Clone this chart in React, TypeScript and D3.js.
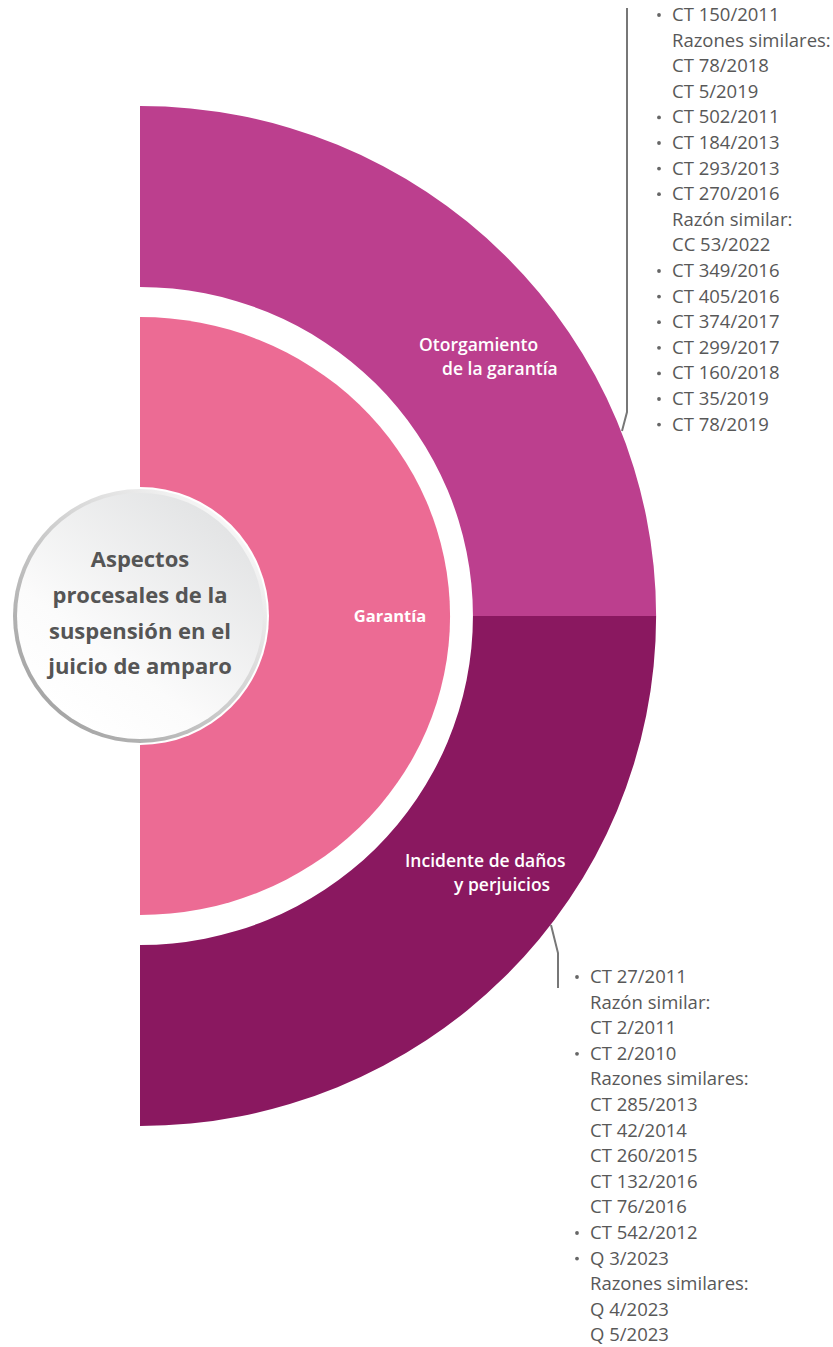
import React from "react";
import * as d3 from "d3";

const W = 833;
const H = 1347;

// Data
const centerTitle = ["Aspectos", "procesales de la", "suspensión en el", "juicio de amparo"];
const innerLabel = "Garantía";
const outerLabels = [
  ["Otorgamiento", "de la garantía"],
  ["Incidente de daños", "y perjuicios"],
];
const outerColors = ["#BC3F8E", "#8A1860"];
const innerColor = "#EC6B94";

// [text, isBullet]
const topList: [string, boolean][] = [
  ["CT 150/2011", true],
  ["Razones similares:", false],
  ["CT 78/2018", false],
  ["CT 5/2019", false],
  ["CT 502/2011", true],
  ["CT 184/2013", true],
  ["CT 293/2013", true],
  ["CT 270/2016", true],
  ["Razón similar:", false],
  ["CC 53/2022", false],
  ["CT 349/2016", true],
  ["CT 405/2016", true],
  ["CT 374/2017", true],
  ["CT 299/2017", true],
  ["CT 160/2018", true],
  ["CT 35/2019", true],
  ["CT 78/2019", true],
];
const bottomList: [string, boolean][] = [
  ["CT 27/2011", true],
  ["Razón similar:", false],
  ["CT 2/2011", false],
  ["CT 2/2010", true],
  ["Razones similares:", false],
  ["CT 285/2013", false],
  ["CT 42/2014", false],
  ["CT 260/2015", false],
  ["CT 132/2016", false],
  ["CT 76/2016", false],
  ["CT 542/2012", true],
  ["Q 3/2023", true],
  ["Razones similares:", false],
  ["Q 4/2023", false],
  ["Q 5/2023", false],
];

const FONT = "'Open Sans', 'Noto Sans', sans-serif";

export default function App() {
  const cx = 140;
  const cy = 616;

  const outerArc = d3.arc<any>().innerRadius(329).outerRadius(510);
  const innerArc = d3.arc<any>().innerRadius(0).outerRadius(299);

  const outerPie = [
    { startAngle: 0, endAngle: Math.PI / 2 },
    { startAngle: Math.PI / 2, endAngle: Math.PI },
  ];

  const listY = d3.scaleLinear().domain([0, 1]).range([0, 25.6]);

  const labelPos = [
    [
      [419, 351],
      [442, 375],
    ],
    [
      [405, 867],
      [454, 891],
    ],
  ];

  const renderList = (items: [string, boolean][], x0: number, y0: number) =>
    items.map(([t, b], i) => (
      <g key={i}>
        {b && (
          <circle cx={x0 - 13} cy={y0 + listY(i) - 6} r={1.9} fill="#666" />
        )}
        <text x={x0} y={y0 + listY(i)} fontSize={18.5} fill="#585858" fontFamily={FONT}>
          {t}
        </text>
      </g>
    ));

  return (
    <svg width={W} height={H} style={{ position: "absolute", left: 0, top: 0 }}>
      <defs>
        <linearGradient id="cfill" x1="0.8" y1="0.1" x2="0.2" y2="0.9">
          <stop offset="0" stopColor="#e3e4e5" />
          <stop offset="0.7" stopColor="#fbfbfb" />
          <stop offset="1" stopColor="#ffffff" />
        </linearGradient>
        <linearGradient id="cstroke" x1="0.85" y1="0.15" x2="0.15" y2="0.85">
          <stop offset="0" stopColor="#f6f6f6" />
          <stop offset="1" stopColor="#a6a6a6" />
        </linearGradient>
      </defs>
      <rect width={W} height={H} fill="#ffffff" />

      {/* outer ring */}
      <g transform={`translate(${cx},${cy}) scale(1.012,1)`}>
        {outerPie.map((d, i) => (
          <path key={i} d={outerArc(d) as string} fill={outerColors[i]} />
        ))}
      </g>
      {/* inner semicircle */}
      <g transform={`translate(${cx},${cy}) scale(1.037,1)`}>
        <path d={innerArc({ startAngle: 0, endAngle: Math.PI }) as string} fill={innerColor} />
      </g>

      {/* connectors */}
      <polyline
        points="627,8 627,412 622,431"
        fill="none"
        stroke="#777"
        strokeWidth={2}
      />
      <polyline
        points="551,925 558,953 558,988"
        fill="none"
        stroke="#777"
        strokeWidth={2}
      />

      {/* outer labels */}
      {outerLabels.map((lines, i) =>
        lines.map((l, j) => (
          <text
            key={`${i}-${j}`}
            x={labelPos[i][j][0]}
            y={labelPos[i][j][1]}
            fontSize={17.5}
            fontWeight={600}
            fill="#ffffff"
            fontFamily={FONT}
          >
            {l}
          </text>
        ))
      )}

      {/* inner label */}
      <text
        x={390}
        y={622}
        textAnchor="middle"
        fontSize={16.5}
        fontWeight={700}
        fill="#ffffff"
        fontFamily={FONT}
      >
        {innerLabel}
      </text>

      {/* center circle */}
      <circle cx={cx} cy={cy} r={129} fill="#ffffff" />
      <circle cx={cx} cy={cy} r={127} fill="url(#cstroke)" />
      <circle cx={cx} cy={cy} r={123} fill="url(#cfill)" />
      {centerTitle.map((l, i) => (
        <text
          key={i}
          x={cx}
          y={567 + i * 35.8}
          textAnchor="middle"
          fontSize={22}
          fontWeight={700}
          fill="#555555"
          fontFamily={FONT}
        >
          {l}
        </text>
      ))}

      {/* lists */}
      {renderList(topList, 672, 21)}
      {renderList(bottomList, 590, 983)}
    </svg>
  );
}
